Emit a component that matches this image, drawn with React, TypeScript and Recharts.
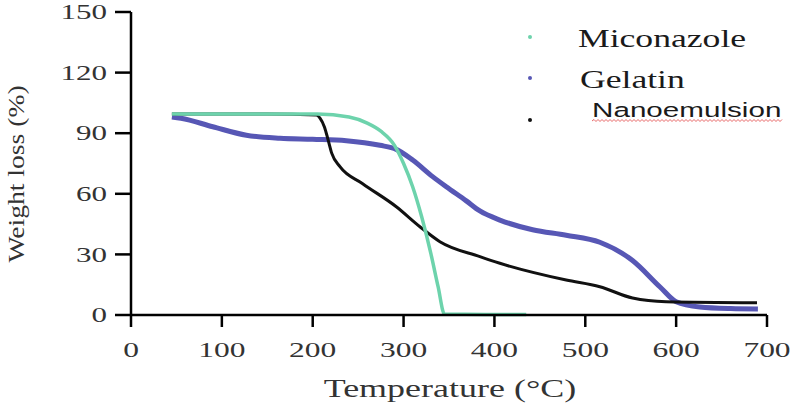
import { LineChart, Line, XAxis, YAxis, Legend } from "recharts";

const xTicks = [0, 100, 200, 300, 400, 500, 600, 700];
const yTicks = [0, 30, 60, 90, 120, 150];

const miconazoleTemp = [45, 100, 150, 205, 240, 260, 275, 290, 300, 310, 320, 330, 338, 345, 390, 435];
const miconazoleWeight = [99.5, 99.5, 99.5, 99.5, 98, 95, 91, 84, 75, 63.5, 48.5, 30.5, 14, 0.5, 0.3, 0.3];

const gelatinTemp = [45, 55, 90, 127, 164, 200, 237, 274, 292, 310, 332, 347, 369, 384, 406, 442, 479, 516, 552, 582, 600, 626, 660, 690];
const gelatinWeight = [98, 97.4, 93.2, 89, 87.5, 87, 86.3, 84, 82, 76.7, 68.5, 63.5, 56.5, 51.5, 47, 42.2, 39.5, 36, 27, 14, 6.6, 4, 3.2, 3];

const nanoTemp = [45, 100, 150, 204, 208, 213, 217, 221, 230, 255, 292, 318, 340, 384, 406, 479, 516, 552, 589, 689];
const nanoWeight = [99.5, 99.5, 99.5, 99, 97.5, 93, 86.6, 80, 73.4, 65, 53.6, 43.7, 36.3, 28.9, 25.6, 17.3, 14, 8.4, 6.6, 6.1];

const seriesNames = ["Miconazole", "Gelatin", "Nanoemulsion"];
const seriesColors = ["#6dd3ac", "#5757b5", "#111111"];

const zip = (t: number[], w: number[]) => t.map((temp, i) => ({ temp, weight: w[i] }));

const SERIF = "'Liberation Serif', 'Times New Roman', serif";
const SANS = "'Liberation Sans', Arial, sans-serif";

function YTick({ x, y, payload }: any) {
  return (
    <g transform={`translate(${x},${y}) scale(1.55,1)`}>
      <text textAnchor="end" dy="0.36em" fontFamily={SERIF} fontSize={20} fill="#333">
        {payload.value}
      </text>
    </g>
  );
}

function XTick({ x, y, payload }: any) {
  return (
    <g transform={`translate(${x},${y + 28}) scale(1.5,1)`}>
      <text textAnchor="middle" fontFamily={SERIF} fontSize={21} fill="#333">
        {payload.value}
      </text>
    </g>
  );
}

function LegendBox({ payload }: any) {
  const items = seriesNames.map((name) => (payload || []).find((p: any) => p.value === name));
  const rows = [
    { dotY: 37, tx: 78, ty: 47, font: SERIF, size: 26, sx: 1.37 },
    { dotY: 78, tx: 80, ty: 88, font: SERIF, size: 26, sx: 1.37 },
    { dotY: 120, tx: 92, ty: 117, font: SANS, size: 19.5, sx: 1.52 },
  ];
  let wave = "M92,121";
  for (let i = 1; i <= 95; i++) wave += ` L${92 + i * 2},${i % 2 ? 119.5 : 121.5}`;
  return (
    <svg width={300} height={130} style={{ display: "block" }}>
      {items.map((it: any, i: number) => (
        <g key={seriesNames[i]}>
          <circle cx={30} cy={rows[i].dotY} r={2} fill={it ? it.color : seriesColors[i]} />
          <g transform={`translate(${rows[i].tx},${rows[i].ty}) scale(${rows[i].sx},1)`}>
            <text fontFamily={rows[i].font} fontSize={rows[i].size} fill="#1a1a1a">
              {seriesNames[i]}
            </text>
          </g>
        </g>
      ))}
      <path d={wave} stroke="#e04040" strokeWidth={0.8} fill="none" />
    </svg>
  );
}

export default function App() {
  const axisStyle = { stroke: "#000", strokeWidth: 2.5 };
  return (
    <div style={{ position: "absolute", left: 0, top: 0, width: 800, height: 417, background: "#fff" }}>
      <LineChart width={800} height={417} margin={{ top: 12, right: 33, left: 0, bottom: 0 }}>
        <XAxis
          type="number"
          dataKey="temp"
          domain={[0, 700]}
          ticks={xTicks}
          height={102}
          tickSize={12}
          tickMargin={2}
          axisLine={axisStyle}
          tickLine={axisStyle}
          tick={<XTick />}
          label={{
            content: () => (
              <g transform="translate(450,397) scale(1.44,1)">
                <text textAnchor="middle" fontFamily={SERIF} fontSize={25} fill="#333">
                  Temperature (°C)
                </text>
              </g>
            ),
          }}
        />
        <YAxis
          type="number"
          domain={[0, 150]}
          ticks={yTicks}
          width={131}
          tickSize={16}
          tickMargin={8}
          axisLine={axisStyle}
          tickLine={axisStyle}
          tick={<YTick />}
          label={{
            content: () => (
              <g transform="translate(24,174) rotate(-90) scale(1.15,1)">
                <text textAnchor="middle" fontFamily={SERIF} fontSize={24} fill="#333">
                  Weight loss (%)
                </text>
              </g>
            ),
          }}
        />
        <Legend
          layout="horizontal"
          align="center"
          verticalAlign="middle"
          content={<LegendBox />}
          wrapperStyle={{ left: 500, top: 0, width: 300, height: 130 }}
        />
        <Line
          data={zip(gelatinTemp, gelatinWeight)}
          dataKey="weight"
          name={seriesNames[1]}
          type="monotone"
          stroke={seriesColors[1]}
          strokeWidth={5}
          dot={false}
          isAnimationActive={false}
        />
        <Line
          data={zip(nanoTemp, nanoWeight)}
          dataKey="weight"
          name={seriesNames[2]}
          type="monotone"
          stroke={seriesColors[2]}
          strokeWidth={3}
          dot={false}
          isAnimationActive={false}
        />
        <Line
          data={zip(miconazoleTemp, miconazoleWeight)}
          dataKey="weight"
          name={seriesNames[0]}
          type="monotone"
          stroke={seriesColors[0]}
          strokeWidth={3.5}
          dot={false}
          isAnimationActive={false}
        />
      </LineChart>
    </div>
  );
}
